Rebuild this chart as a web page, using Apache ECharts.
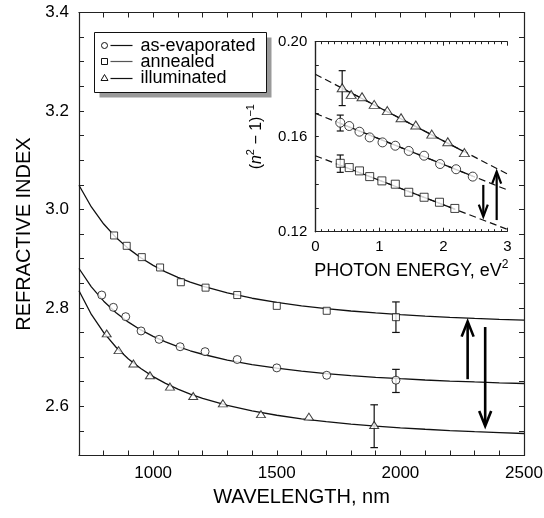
<!DOCTYPE html>
<html>
<head>
<meta charset="utf-8">
<script src="https://cdn.jsdelivr.net/npm/echarts@6/dist/echarts.min.js"></script>
<style>
html,body{margin:0;padding:0;background:#fff;}
#chart{width:544px;height:518px;}
</style>
</head>
<body>
<div id="chart"></div>
<script>
// ---------- main panel: measured points ----------
const wavelengthAsEvap = [792, 839, 889, 951, 1024, 1109, 1210, 1340, 1500, 1702, 1982];
const nAsEvap = [2.826, 2.801, 2.782, 2.753, 2.736, 2.721, 2.711, 2.695, 2.678, 2.663, 2.653];
const wavelengthAnnealed = [842, 893, 954, 1028, 1112, 1212, 1340, 1500, 1702, 1982];
const nAnnealed = [2.947, 2.926, 2.903, 2.882, 2.852, 2.841, 2.826, 2.804, 2.794, 2.781];
const wavelengthIllum = [812, 860, 920, 987, 1068, 1162, 1282, 1436, 1630, 1894];
const nIllum = [2.748, 2.714, 2.687, 2.663, 2.640, 2.621, 2.606, 2.584, 2.579, 2.562];

// ---------- main panel: fitted curves ----------
const fitWavelength = [700, 750, 800, 850, 900, 950, 1000, 1050, 1100, 1150, 1200, 1300, 1400, 1500, 1600, 1700, 1800, 1900, 2000, 2100, 2200, 2300, 2400, 2500];
const fitAnnealed = [3.0491, 3.0049, 2.9703, 2.9427, 2.9203, 2.9018, 2.8863, 2.8732, 2.8620, 2.8523, 2.8440, 2.8302, 2.8195, 2.8110, 2.8040, 2.7983, 2.7936, 2.7896, 2.7862, 2.7833, 2.7808, 2.7786, 2.7767, 2.7750];
const fitAsEvap = [2.8799, 2.8427, 2.8135, 2.7900, 2.7709, 2.7551, 2.7419, 2.7307, 2.7211, 2.7128, 2.7057, 2.6939, 2.6846, 2.6773, 2.6713, 2.6664, 2.6623, 2.6589, 2.6560, 2.6534, 2.6513, 2.6494, 2.6477, 2.6463];
const fitIllum = [2.8346, 2.7866, 2.7495, 2.7200, 2.6962, 2.6766, 2.6603, 2.6466, 2.6348, 2.6248, 2.6161, 2.6018, 2.5906, 2.5818, 2.5746, 2.5687, 2.5638, 2.5597, 2.5562, 2.5533, 2.5507, 2.5484, 2.5465, 2.5447];

// error bars: [wavelength, low, high]
const errMain = [[1982, 2.750, 2.812], [1982, 2.628, 2.675], [1894, 2.516, 2.603]];
// arrows: [wavelength, from, to(tip)]
const arrowsMain = [[2272, 2.655, 2.772], [2343, 2.761, 2.560]];

// ---------- inset: (n^2-1)^-1 vs photon energy squared ----------
const energyAsEvap = [0.39, 0.53, 0.69, 0.85, 1.05, 1.25, 1.46, 1.70, 1.95, 2.20, 2.46];
const invAsEvap = [0.1659, 0.1645, 0.1621, 0.1597, 0.1576, 0.1562, 0.1540, 0.1520, 0.1485, 0.1463, 0.1432];
const energyAnnealed = [0.39, 0.53, 0.69, 0.85, 1.04, 1.25, 1.46, 1.70, 1.94, 2.18];
const invAnnealed = [0.1488, 0.1470, 0.1456, 0.1432, 0.1414, 0.1400, 0.1366, 0.1345, 0.1324, 0.1298];
const energyIllum = [0.42, 0.56, 0.73, 0.92, 1.125, 1.34, 1.57, 1.82, 2.07, 2.33];
const invIllum = [0.1806, 0.1778, 0.1768, 0.1736, 0.1710, 0.1680, 0.1649, 0.1611, 0.1579, 0.1533];

// straight-line fits: dashed over full range, solid over data range
const lineEnergyFull = [0, 3];
const lineAsEvapFull = [0.1698, 0.1376];
const lineAnnealedFull = [0.1520, 0.1210];
const lineIllumFull = [0.1863, 0.1443];
const lineAsEvapEnergy = [0.39, 2.46];
const lineAsEvapSolid = [0.1656, 0.1434];
const lineAnnealedEnergy = [0.39, 2.18];
const lineAnnealedSolid = [0.1480, 0.1295];
const lineIllumEnergy = [0.42, 2.33];
const lineIllumSolid = [0.1804, 0.1536];

const errInset = [[0.42, 0.1731, 0.1878], [0.39, 0.1624, 0.1691], [0.39, 0.1450, 0.1523]];
const arrowsInset = [[2.625, 0.1397, 0.1263], [2.834, 0.1249, 0.1453]];

// ---------- tick labels ----------
const mainXLabels = [1000, 1500, 2000, 2500];
const mainYLabels = ['2.6', '2.8', '3.0', '3.2', '3.4'];
const insetXLabels = ['0', '1', '2', '3'];
const insetYLabels = ['0.12', '0.16', '0.20'];

const legendNames = ['as-evaporated', 'annealed', 'illuminated'];

const FONT = '"Liberation Sans", Arial, Helvetica, sans-serif';
const INK = '#111';

function zip(a, b) { return a.map((v, i) => [v, b[i]]); }

function errRender(capHalf, lw) {
  return function (params, api) {
    const x = api.value(0);
    const p1 = api.coord([x, api.value(1)]);
    const p2 = api.coord([x, api.value(2)]);
    const st = { stroke: INK, lineWidth: lw };
    return {
      type: 'group',
      children: [
        { type: 'line', shape: { x1: p1[0], y1: p1[1], x2: p2[0], y2: p2[1] }, style: st },
        { type: 'line', shape: { x1: p1[0] - capHalf, y1: p1[1], x2: p1[0] + capHalf, y2: p1[1] }, style: st },
        { type: 'line', shape: { x1: p2[0] - capHalf, y1: p2[1], x2: p2[0] + capHalf, y2: p2[1] }, style: st }
      ]
    };
  };
}

function arrowRender(headW, headL, lw) {
  return function (params, api) {
    const x = api.value(0);
    const a = api.coord([x, api.value(1)]);
    const b = api.coord([x, api.value(2)]);
    const dir = a[1] > b[1] ? 1 : -1; // head arms extend toward start
    const st = { stroke: '#000', lineWidth: lw, fill: null, lineJoin: 'miter' };
    return {
      type: 'group',
      children: [
        { type: 'line', shape: { x1: a[0], y1: a[1], x2: b[0], y2: b[1] + dir * 1 }, style: st },
        { type: 'polyline', shape: { points: [[b[0] - headW / 2, b[1] + dir * headL], [b[0], b[1]], [b[0] + headW / 2, b[1] + dir * headL]] }, style: st }
      ]
    };
  };
}

const markerStyle = { color: '#fff', borderColor: INK, borderWidth: 1 };

const chart = echarts.init(document.getElementById('chart'), null, { renderer: 'canvas' });

const axisLineStyle = { lineStyle: { color: '#222', width: 1.2 } };

function mainXFmt(v) { return mainXLabels.indexOf(Math.round(v)) >= 0 && Math.abs(v - Math.round(v)) < 1e-6 ? String(Math.round(v)) : ''; }
function mainYFmt(v) { const s = v.toFixed(1); return (Math.abs(v * 5 - Math.round(v * 5)) < 1e-6 && mainYLabels.indexOf(s) >= 0) ? s : ''; }
function insetXFmt(v) { const s = String(Math.round(v)); return (Math.abs(v - Math.round(v)) < 1e-6 && insetXLabels.indexOf(s) >= 0) ? s : ''; }
function insetYFmt(v) { const s = v.toFixed(2); return (Math.abs(v * 25 - Math.round(v * 25)) < 1e-6 && insetYLabels.indexOf(s) >= 0) ? s : ''; }

const fitLine = { color: INK, width: 1.3 };

const option = {
  animation: false,
  backgroundColor: '#fff',
  textStyle: { fontFamily: FONT, color: '#000' },
  grid: [
    { left: 79, top: 12.5, width: 445, height: 443, outerBoundsMode: 'none', containLabel: false },
    { left: 315.3, top: 41.7, width: 192, height: 190, outerBoundsMode: 'none', containLabel: false }
  ],
  xAxis: [
    {
      gridIndex: 0, type: 'value', position: 'bottom', min: 700, max: 2500, interval: 100,
      axisLine: axisLineStyle, splitLine: { show: false },
      axisTick: { inside: true, length: 5, lineStyle: { color: '#222', width: 1 } },
      axisLabel: { formatter: mainXFmt, fontSize: 17, color: '#000', margin: 9, fontFamily: FONT },
      name: 'WAVELENGTH, nm', nameLocation: 'middle', nameGap: 32,
      nameTextStyle: { fontSize: 20, color: '#000', fontFamily: FONT }
    },
    {
      gridIndex: 0, type: 'value', position: 'top', min: 700, max: 2500, interval: 100,
      axisLine: axisLineStyle, splitLine: { show: false },
      axisTick: { inside: true, length: 5, lineStyle: { color: '#222', width: 1 } },
      axisLabel: { show: false }
    },
    {
      gridIndex: 1, type: 'value', position: 'bottom', min: 0, max: 3, interval: 1,
      axisLine: axisLineStyle, splitLine: { show: false },
      axisTick: { inside: true, length: 4, lineStyle: { color: '#222', width: 1 } },
      minorTick: { show: true, splitNumber: 10, length: 2.5, lineStyle: { color: '#222', width: 1 } },
      axisLabel: { formatter: insetXFmt, fontSize: 15, color: '#000', margin: 8, fontFamily: FONT },
      name: '{a|PHOTON ENERGY, eV}{s|2}', nameLocation: 'middle', nameGap: 27,
      nameTextStyle: {
        fontFamily: FONT, color: '#000',
        rich: {
          a: { fontSize: 18, lineHeight: 24, fontFamily: FONT, color: '#000' },
          s: { fontSize: 12, verticalAlign: 'top', fontFamily: FONT, color: '#000' }
        }
      }
    },
    {
      gridIndex: 1, type: 'value', position: 'top', min: 0, max: 3, interval: 1,
      axisLine: axisLineStyle, splitLine: { show: false },
      axisTick: { inside: true, length: 4, lineStyle: { color: '#222', width: 1 } },
      minorTick: { show: true, splitNumber: 10, length: 2.5, lineStyle: { color: '#222', width: 1 } },
      axisLabel: { show: false }
    }
  ],
  yAxis: [
    {
      gridIndex: 0, type: 'value', position: 'left', min: 2.5, max: 3.4, interval: 0.05,
      axisLine: axisLineStyle, splitLine: { show: false },
      axisTick: { inside: true, length: 5, lineStyle: { color: '#222', width: 1 } },
      axisLabel: { formatter: mainYFmt, fontSize: 17, color: '#000', margin: 10, fontFamily: FONT },
      name: 'REFRACTIVE INDEX', nameLocation: 'middle', nameGap: 45, nameRotate: 90,
      nameTextStyle: { fontSize: 20, color: '#000', fontFamily: FONT }
    },
    {
      gridIndex: 0, type: 'value', position: 'right', min: 2.5, max: 3.4, interval: 0.05,
      axisLine: axisLineStyle, splitLine: { show: false },
      axisTick: { inside: true, length: 5, lineStyle: { color: '#222', width: 1 } },
      axisLabel: { show: false }
    },
    {
      gridIndex: 1, type: 'value', position: 'left', min: 0.12, max: 0.20, interval: 0.01,
      axisLine: axisLineStyle, splitLine: { show: false },
      axisTick: { inside: true, length: 3.5, lineStyle: { color: '#222', width: 1 } },
      axisLabel: { formatter: insetYFmt, fontSize: 15, color: '#000', margin: 8, fontFamily: FONT },
      name: '{p|(}{i|n}{s|2}{p| − 1)}{s|−1}', nameLocation: 'middle', nameGap: 48, nameRotate: 90,
      nameTextStyle: {
        fontFamily: FONT, color: '#000',
        rich: {
          p: { fontSize: 16, lineHeight: 22, fontFamily: FONT, color: '#000' },
          i: { fontSize: 16, lineHeight: 22, fontStyle: 'italic', fontFamily: FONT, color: '#000' },
          s: { fontSize: 11, verticalAlign: 'top', fontFamily: FONT, color: '#000' }
        }
      }
    },
    {
      gridIndex: 1, type: 'value', position: 'right', min: 0.12, max: 0.20, interval: 0.01,
      axisLine: axisLineStyle, splitLine: { show: false },
      axisTick: { show: false }, axisLabel: { show: false }
    }
  ],
  series: [
    // main fitted curves
    { name: 'fit annealed', type: 'line', xAxisIndex: 0, yAxisIndex: 0, data: zip(fitWavelength, fitAnnealed), smooth: false, symbol: 'none', lineStyle: fitLine, z: 2 },
    { name: 'fit as-evaporated', type: 'line', xAxisIndex: 0, yAxisIndex: 0, data: zip(fitWavelength, fitAsEvap), smooth: false, symbol: 'none', lineStyle: fitLine, z: 2 },
    { name: 'fit illuminated', type: 'line', xAxisIndex: 0, yAxisIndex: 0, data: zip(fitWavelength, fitIllum), smooth: false, symbol: 'none', lineStyle: fitLine, z: 2 },
    // main error bars and arrows
    { type: 'custom', xAxisIndex: 0, yAxisIndex: 0, data: errMain, renderItem: errRender(3.8, 1.2), z: 3, silent: true },
    { type: 'custom', xAxisIndex: 0, yAxisIndex: 0, data: arrowsMain, renderItem: arrowRender(12, 15, 2.6), z: 3, silent: true },
    // main points
    { name: legendNames[0], type: 'scatter', xAxisIndex: 0, yAxisIndex: 0, data: zip(wavelengthAsEvap, nAsEvap), symbol: 'circle', symbolSize: 8, itemStyle: markerStyle, z: 5 },
    { name: legendNames[1], type: 'scatter', xAxisIndex: 0, yAxisIndex: 0, data: zip(wavelengthAnnealed, nAnnealed), symbol: 'rect', symbolSize: 7, itemStyle: markerStyle, z: 5 },
    { name: legendNames[2], type: 'scatter', xAxisIndex: 0, yAxisIndex: 0, data: zip(wavelengthIllum, nIllum), symbol: 'triangle', symbolSize: [9, 7], itemStyle: markerStyle, z: 5 },

    // inset dashed full lines
    { type: 'line', xAxisIndex: 2, yAxisIndex: 2, data: zip(lineEnergyFull, lineIllumFull), symbol: 'none', lineStyle: { color: INK, width: 1.2, type: [7, 4] }, z: 2 },
    { type: 'line', xAxisIndex: 2, yAxisIndex: 2, data: zip(lineEnergyFull, lineAsEvapFull), symbol: 'none', lineStyle: { color: INK, width: 1.2, type: [7, 4] }, z: 2 },
    { type: 'line', xAxisIndex: 2, yAxisIndex: 2, data: zip(lineEnergyFull, lineAnnealedFull), symbol: 'none', lineStyle: { color: INK, width: 1.2, type: [7, 4] }, z: 2 },
    // inset solid segments
    { type: 'line', xAxisIndex: 2, yAxisIndex: 2, data: zip(lineIllumEnergy, lineIllumSolid), symbol: 'none', lineStyle: { color: INK, width: 1.2 }, z: 2 },
    { type: 'line', xAxisIndex: 2, yAxisIndex: 2, data: zip(lineAsEvapEnergy, lineAsEvapSolid), symbol: 'none', lineStyle: { color: INK, width: 1.2 }, z: 2 },
    { type: 'line', xAxisIndex: 2, yAxisIndex: 2, data: zip(lineAnnealedEnergy, lineAnnealedSolid), symbol: 'none', lineStyle: { color: INK, width: 1.2 }, z: 2 },
    // inset error bars and arrows
    { type: 'custom', xAxisIndex: 2, yAxisIndex: 2, data: errInset, renderItem: errRender(3.5, 1.2), z: 3, silent: true },
    { type: 'custom', xAxisIndex: 2, yAxisIndex: 2, data: arrowsInset, renderItem: arrowRender(9, 12, 2.2), z: 3, silent: true },
    // inset points
    { type: 'scatter', xAxisIndex: 2, yAxisIndex: 2, data: zip(energyAsEvap, invAsEvap), symbol: 'circle', symbolSize: 9, itemStyle: markerStyle, z: 5 },
    { type: 'scatter', xAxisIndex: 2, yAxisIndex: 2, data: zip(energyAnnealed, invAnnealed), symbol: 'rect', symbolSize: 8, itemStyle: markerStyle, z: 5 },
    { type: 'scatter', xAxisIndex: 2, yAxisIndex: 2, data: zip(energyIllum, invIllum), symbol: 'triangle', symbolSize: [10, 8], itemStyle: markerStyle, z: 5 }
  ],
  graphic: [
    {
      type: 'group', left: 94, top: 32, z: 10,
      children: [
        { type: 'rect', shape: { x: 5, y: 5, width: 172, height: 60 }, style: { fill: '#9a9a9a' } },
        { type: 'rect', shape: { x: 0, y: 0, width: 172, height: 60 }, style: { fill: '#fff', stroke: '#111', lineWidth: 1 } },
        { type: 'circle', shape: { cx: 10, cy: 13, r: 3 }, style: { fill: '#fff', stroke: '#111', lineWidth: 1 } },
        { type: 'line', shape: { x1: 16, y1: 13, x2: 38, y2: 13 }, style: { stroke: '#111', lineWidth: 1.2 } },
        { type: 'text', style: { x: 46, y: 14, text: legendNames[0], font: '18px ' + FONT, fill: '#000', verticalAlign: 'middle' } },
        { type: 'rect', shape: { x: 7, y: 26, width: 6, height: 6 }, style: { fill: '#fff', stroke: '#111', lineWidth: 1 } },
        { type: 'line', shape: { x1: 16, y1: 29, x2: 38, y2: 29 }, style: { stroke: '#555', lineWidth: 1.2 } },
        { type: 'text', style: { x: 46, y: 30, text: legendNames[1], font: '18px ' + FONT, fill: '#000', verticalAlign: 'middle' } },
        { type: 'polygon', shape: { points: [[10, 42], [13.5, 48], [6.5, 48]] }, style: { fill: '#fff', stroke: '#111', lineWidth: 1 } },
        { type: 'line', shape: { x1: 16, y1: 46, x2: 38, y2: 46 }, style: { stroke: '#111', lineWidth: 1.2 } },
        { type: 'text', style: { x: 46, y: 46, text: legendNames[2], font: '18px ' + FONT, fill: '#000', verticalAlign: 'middle' } }
      ]
    }
  ]
};

chart.setOption(option);
</script>
</body>
</html>
